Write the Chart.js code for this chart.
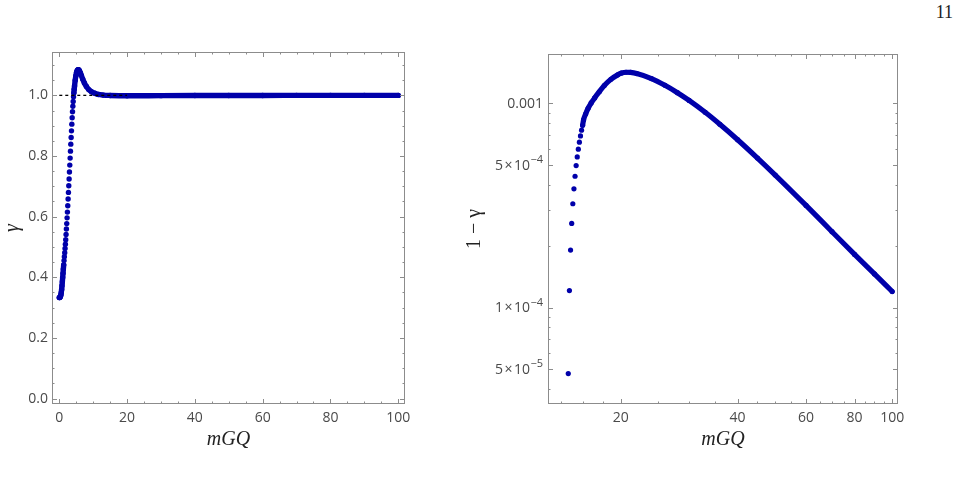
<!DOCTYPE html>
<html>
<head>
<meta charset="utf-8">
<script src="https://cdn.jsdelivr.net/npm/chart.js@4"></script>
<style>
  html, body { margin: 0; padding: 0; background: #fff; }
  body { width: 960px; height: 484px; position: relative; overflow: hidden; }
  canvas { position: absolute; top: 0; }
  #left { left: 0; }
  #right { left: 450px; }
  #page { position: absolute; right: 7px; top: 2px; font: 18px 'Liberation Serif', serif; color: #222; }
</style>
</head>
<body>
<div id="page">11</div>
<canvas id="left" width="450" height="484"></canvas>
<canvas id="right" width="510" height="484"></canvas>
<script>
// left panel: gamma against mGQ
const leftX = [0, 0.1, 0.2, 0.3, 0.4, 0.5, 0.6, 0.7, 0.8, 0.9, 1.0, 1.1, 1.2, 1.3,
  1.4, 1.5, 1.6, 1.7, 1.8, 1.9, 2.0, 2.1, 2.2, 2.3, 2.4, 2.5, 2.6, 2.7, 2.8, 2.9,
  3.0, 3.1, 3.2, 3.3, 3.4, 3.5, 3.6, 3.7, 3.8, 3.9, 4.0, 4.1, 4.2,
  4.3, 4.4, 4.5, 4.7, 4.9, 5.1, 5.3, 5.5, 5.7, 5.9, 6.2, 6.5, 6.9, 7.4, 8.0, 8.7,
  9.5, 10.5, 11.5, 13, 15, 20, 30, 40, 50, 60, 70, 80, 90, 100];
const leftY = [0.333, 0.333, 0.334, 0.336, 0.339, 0.344, 0.351, 0.36, 0.372, 0.385, 0.399, 0.413, 0.427, 0.441,
  0.455, 0.468, 0.481, 0.495, 0.509, 0.524, 0.541, 0.559, 0.577, 0.596, 0.615, 0.636, 0.658, 0.680, 0.702, 0.724,
  0.747, 0.770, 0.793, 0.816, 0.839, 0.861, 0.883, 0.905, 0.926, 0.946, 0.964, 0.980, 0.995,
  1.008, 1.02, 1.031, 1.05, 1.065, 1.076, 1.082, 1.085, 1.085, 1.082, 1.075, 1.066, 1.054, 1.041, 1.029, 1.019,
  1.012, 1.007, 1.003, 1.0008, 0.9997, 0.9986, 0.999, 0.9993, 0.9996, 0.9997, 0.9998, 0.9998, 0.9999, 0.9999];

// dashed guide at gamma = 1
const refX = [0, 20];
const refY = [1, 1];

// right panel: 1 - gamma against mGQ, log-log
const rightX = [14.66, 14.76, 14.86, 14.96, 15.06, 15.16, 15.26, 15.36, 15.46, 15.56, 15.66, 15.76, 15.86, 15.96,
  16.05, 16.25, 16.49, 16.79, 17.14, 17.62, 18.15, 18.88, 19.65, 20.1, 20.64, 21.2,
  22, 24, 26, 28, 30, 33, 36, 40, 45, 50, 60, 70, 80, 90, 100];
const rightY = [4.75e-5, 1.21e-4, 1.91e-4, 2.58e-4, 3.22e-4, 3.81e-4, 4.39e-4, 4.95e-4, 5.46e-4, 5.96e-4, 6.45e-4, 6.92e-4, 7.38e-4, 7.80e-4,
  8.29e-4, 8.86e-4, 9.45e-4, 1.003e-3, 1.062e-3, 1.138e-3, 1.221e-3, 1.310e-3, 1.377e-3, 1.405e-3, 1.418e-3, 1.415e-3,
  1.397e-3, 1.320e-3, 1.224e-3, 1.126e-3, 1.032e-3, 9.03e-4, 7.89e-4, 6.63e-4, 5.39e-4, 4.45e-4, 3.16e-4, 2.35e-4, 1.82e-4, 1.46e-4, 1.198e-4];

// ticks
const leftXTicks = [0, 20, 40, 60, 80, 100];
const leftXMinor = [5, 10, 15, 25, 30, 35, 45, 50, 55, 65, 70, 75, 85, 90, 95];
const leftYTicks = [0, 0.2, 0.4, 0.6, 0.8, 1.0];
const leftYMinor = [0.05, 0.1, 0.15, 0.25, 0.3, 0.35, 0.45, 0.5, 0.55, 0.65, 0.7, 0.75, 0.85, 0.9, 0.95, 1.05, 1.1];
const rightXTicks = [20, 40, 60, 80, 100];
const rightXMinor = [14, 16, 18, 25, 30, 35, 45, 50, 55, 65, 70, 75, 85, 90, 95];
const rightYTicks = [5e-5, 1e-4, 5e-4, 1e-3];
const rightYBase = ['5\u200a\u00d7\u200a10', '1\u200a\u00d7\u200a10', '5\u200a\u00d7\u200a10', '0.001'];
const rightYExp = ['\u22125', '\u22124', '\u22124', ''];
const rightYMinor = [4e-5, 6e-5, 7e-5, 8e-5, 9e-5, 2e-4, 3e-4, 4e-4, 6e-4, 7e-4, 8e-4, 9e-4];

const BLUE = '#0000aa';
const FRAME = '#8c8c8c';
const LABEL = '#4a4a4a';
const HIDDEN = 'rgba(0,0,0,0)';
const tickFont = { family: 'Open Sans', size: 14 };
const titleFont = { family: 'Liberation Serif', style: 'italic', size: 20 };

// frame box with inward ticks on all four sides
function makeFrame(xMajor, xMinor, yMajor, yMinor) {
  return {
    id: 'frame',
    afterDatasetsDraw(chart) {
      const { ctx, chartArea: a } = chart;
      const xs = chart.scales.x, ys = chart.scales.y;
      ctx.save();
      ctx.strokeStyle = FRAME;
      ctx.lineWidth = 1;
      ctx.strokeRect(Math.round(a.left) + 0.5, Math.round(a.top) + 0.5, Math.round(a.width) - 1, Math.round(a.height) - 1);
      ctx.beginPath();
      const xt = (v, len) => {
        const p = Math.round(xs.getPixelForValue(v)) + 0.5;
        ctx.moveTo(p, a.bottom); ctx.lineTo(p, a.bottom - len);
        ctx.moveTo(p, a.top); ctx.lineTo(p, a.top + len);
      };
      const yt = (v, len) => {
        const p = Math.round(ys.getPixelForValue(v)) + 0.5;
        ctx.moveTo(a.left, p); ctx.lineTo(a.left + len, p);
        ctx.moveTo(a.right, p); ctx.lineTo(a.right - len, p);
      };
      xMajor.forEach(v => xt(v, 5));
      xMinor.forEach(v => xt(v, 2.5));
      yMajor.forEach(v => yt(v, 5));
      yMinor.forEach(v => yt(v, 2.5));
      ctx.stroke();
      ctx.restore();
    }
  };
}

// y labels of the form 5x10^-4, with a raised exponent
function makeSciLabels(values, bases, exps) {
  return {
    id: 'sciLabels',
    afterDraw(chart) {
      const { ctx, chartArea: a } = chart;
      const ys = chart.scales.y;
      ctx.save();
      ctx.fillStyle = LABEL;
      ctx.textBaseline = 'middle';
      ctx.textAlign = 'right';
      values.forEach((v, i) => {
        const y = ys.getPixelForValue(v);
        let x = a.left - 5;
        if (exps[i]) {
          ctx.font = '11px "Open Sans"';
          ctx.fillText(exps[i], x, y - 5);
          x -= ctx.measureText(exps[i]).width + 0.5;
        }
        ctx.font = '14px "Open Sans"';
        ctx.fillText(bases[i], x, y + 1);
      });
      ctx.restore();
    }
  };
}

function axisBase(extra) {
  return Object.assign({
    grid: { display: false, drawTicks: false },
    border: { display: false },
  }, extra);
}

// left chart
new Chart(document.getElementById('left'), {
  type: 'scatter',
  data: {
    datasets: [{
      data: refX.map((x, i) => ({ x, y: refY[i] })),
      showLine: true, borderColor: '#000', borderWidth: 1.3, borderDash: [3, 3],
      pointRadius: 0, order: 0
    }, {
      data: leftX.map((x, i) => ({ x, y: leftY[i] })),
      showLine: true, borderColor: BLUE, borderWidth: 5.4,
      borderCapStyle: 'round', borderJoinStyle: 'round', cubicInterpolationMode: 'monotone',
      pointRadius: 2.7, pointBackgroundColor: BLUE, pointBorderWidth: 0,
      segment: { borderColor: c => (c.p0.parsed.x >= 1.3 && c.p1.parsed.x <= 4.3) ? HIDDEN : BLUE },
      order: 1
    }]
  },
  options: {
    responsive: false, animation: false, events: [],
    layout: { padding: { left: 0, top: 52, right: 45, bottom: 20 } },
    plugins: { legend: { display: false }, tooltip: { enabled: false } },
    scales: {
      x: axisBase({
        type: 'linear', min: -2.15, max: 102,
        afterBuildTicks: s => { s.ticks = leftXTicks.map(v => ({ value: v })); },
        afterFit: s => { s.height = 60; },
        ticks: { color: LABEL, font: tickFont, padding: 6, autoSkip: false, maxRotation: 0, callback: v => String(v) },
        title: { display: true, text: 'mGQ', color: '#222', font: titleFont, padding: { top: 0, bottom: 12 } }
      }),
      y: axisBase({
        type: 'linear', min: -0.018, max: 1.143,
        afterBuildTicks: s => { s.ticks = leftYTicks.map(v => ({ value: v })); },
        afterFit: s => { s.width = 52; },
        ticks: { color: LABEL, font: tickFont, padding: 4, autoSkip: false, callback: v => v.toFixed(1) },
        title: { display: true, text: '\u03b3', color: '#222', font: titleFont, padding: { top: 1, bottom: 0 } }
      })
    }
  },
  plugins: [makeFrame(leftXTicks, leftXMinor, leftYTicks, leftYMinor)]
});

// right chart
new Chart(document.getElementById('right'), {
  type: 'scatter',
  data: {
    datasets: [{
      data: rightX.map((x, i) => ({ x, y: rightY[i] })),
      showLine: true, borderColor: BLUE, borderWidth: 5.2,
      borderCapStyle: 'round', borderJoinStyle: 'round', cubicInterpolationMode: 'monotone',
      pointRadius: 2.6, pointBackgroundColor: BLUE, pointBorderWidth: 0,
      segment: { borderColor: c => c.p1.parsed.x <= 15.96 ? HIDDEN : BLUE }
    }]
  },
  options: {
    responsive: false, animation: false, events: [],
    layout: { padding: { left: 0, top: 54, right: 62, bottom: 20 } },
    plugins: { legend: { display: false }, tooltip: { enabled: false } },
    scales: {
      x: axisBase({
        type: 'logarithmic', min: 13, max: 103.5,
        afterBuildTicks: s => { s.ticks = rightXTicks.map(v => ({ value: v })); },
        afterFit: s => { s.height = 60; },
        ticks: { color: LABEL, font: tickFont, padding: 6, autoSkip: false, maxRotation: 0, callback: v => String(v) },
        title: { display: true, text: 'mGQ', color: '#222', font: titleFont, padding: { top: 0, bottom: 12 } }
      }),
      y: axisBase({
        type: 'logarithmic', min: 3.37e-5, max: 1.742e-3,
        afterBuildTicks: s => { s.ticks = rightYTicks.map(v => ({ value: v })); },
        afterFit: s => { s.width = 98; },
        ticks: { display: false },
        title: { display: true, text: '1 \u2212 \u03b3', color: '#222', font: { family: 'Liberation Serif', size: 20 }, padding: { top: 13, bottom: 0 } }
      })
    }
  },
  plugins: [makeFrame(rightXTicks, rightXMinor, rightYTicks, rightYMinor), makeSciLabels(rightYTicks, rightYBase, rightYExp)]
});
</script>
</body>
</html>
